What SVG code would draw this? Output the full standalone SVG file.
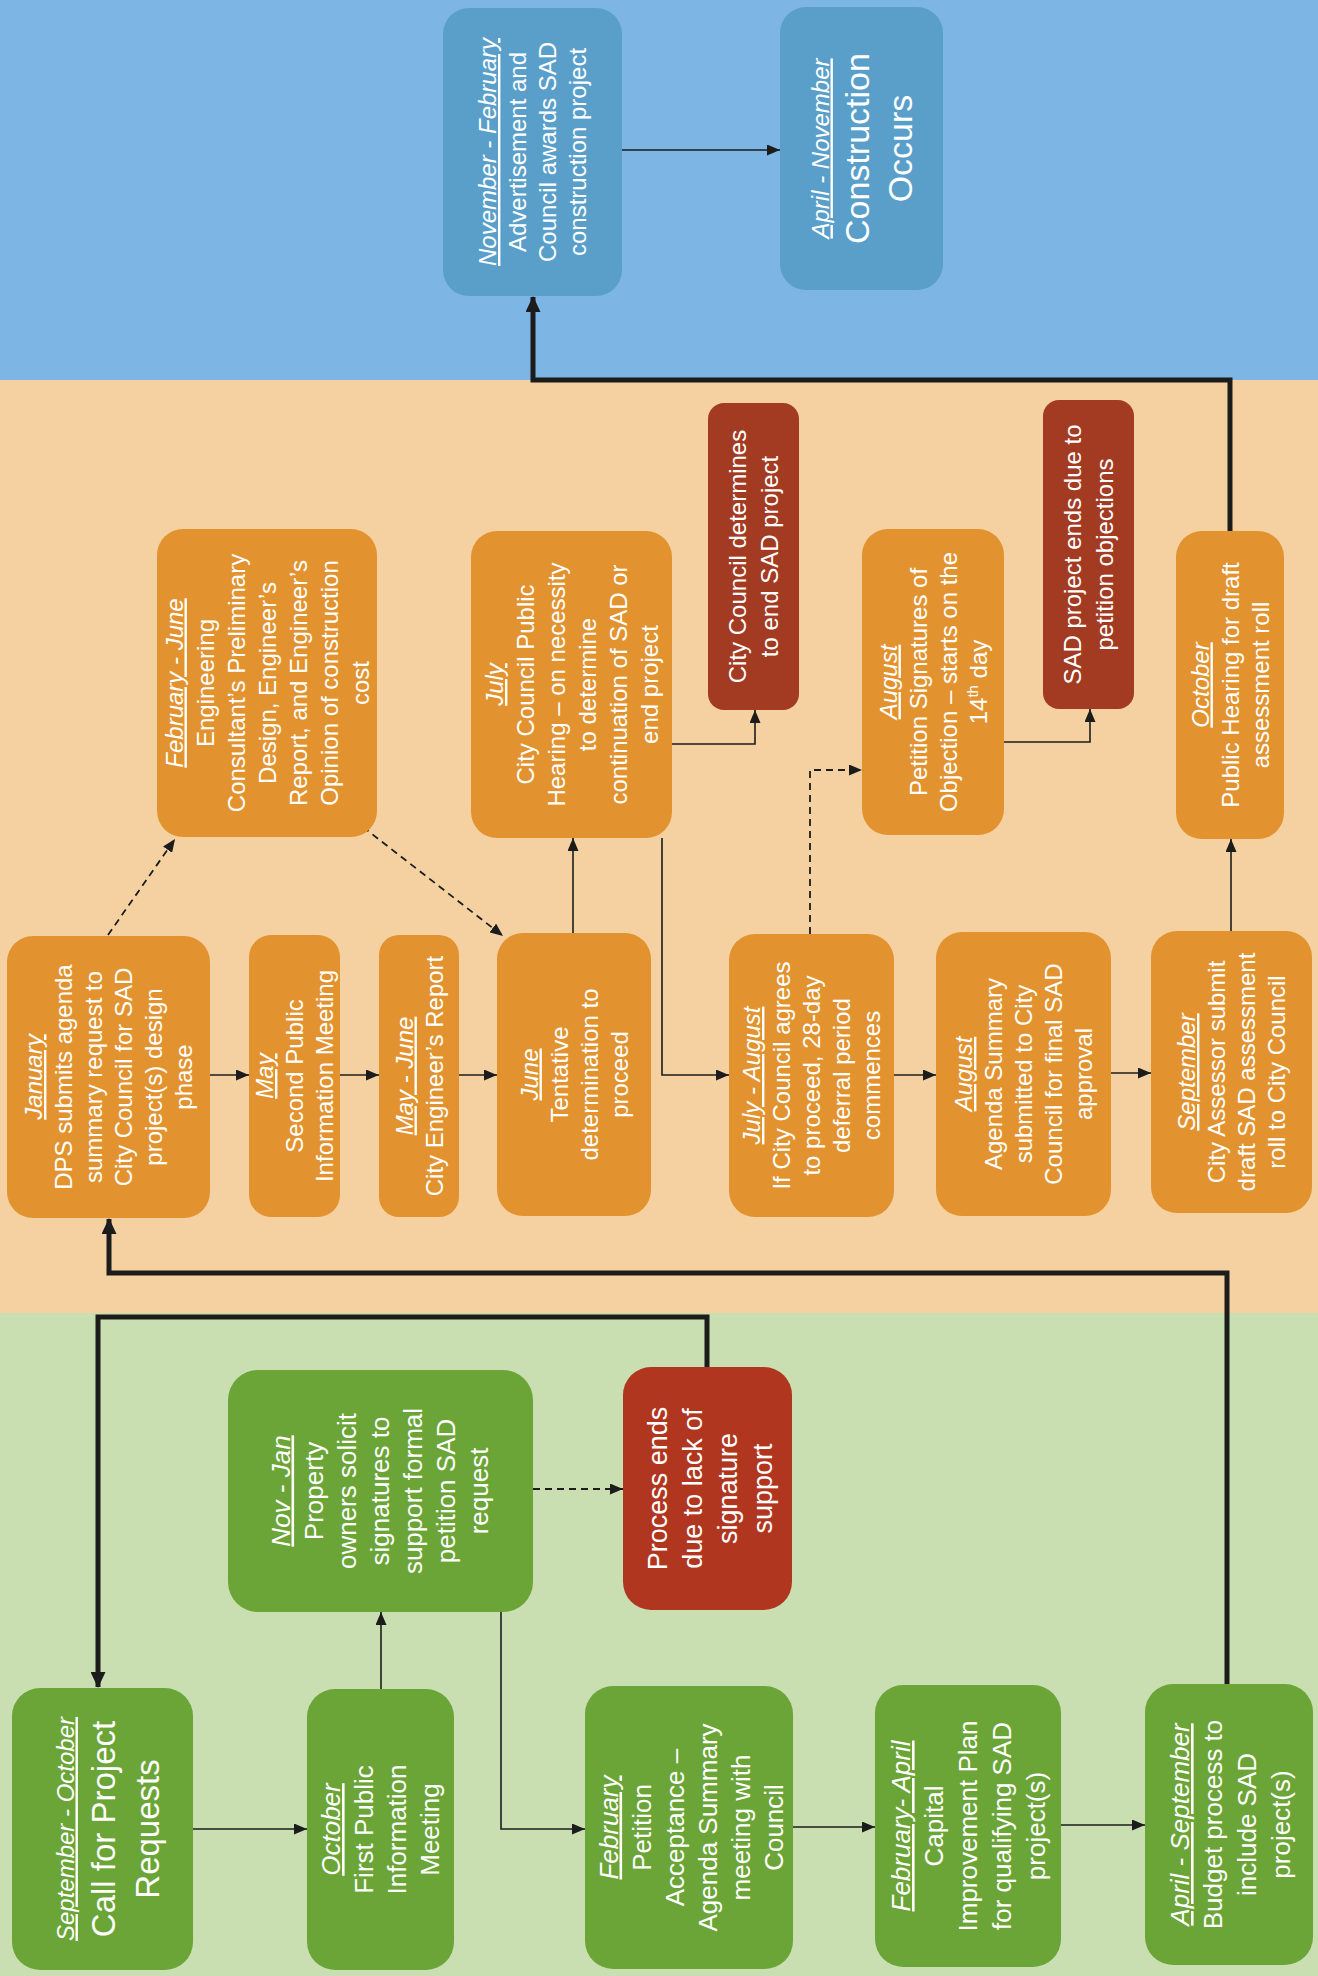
<svg xmlns="http://www.w3.org/2000/svg" width="1318" height="1976" viewBox="0 0 1318 1976">
<style>
.nb{fill:#5a9fca}.no{fill:#e2932f}.nr{fill:#a33a22}.ng{fill:#6ba538}.nrg{fill:#b1361f}
text{font-family:"Liberation Sans",Arial,sans-serif;fill:#fff;text-anchor:middle}
.f24{font-size:24px}.f26{font-size:26px}.f27{font-size:27px}
.big{font-size:34px}.big33{font-size:33px}
.ttl{font-style:italic;text-decoration:underline}
.ln{fill:none;stroke:#1c1c1c;stroke-width:1.6}
.thick{fill:none;stroke:#1c1c1c;stroke-width:5}
.dash{stroke-dasharray:7 5;stroke-width:1.8}
</style>
<defs>
<marker id="ah" viewBox="0 0 13 11" refX="13" refY="5.5" markerWidth="13" markerHeight="11" orient="auto" markerUnits="userSpaceOnUse"><path d="M0,0 L13,5.5 L0,11 z" fill="#1c1c1c"/></marker>
<marker id="ahT" viewBox="0 0 16 15" refX="15" refY="7.5" markerWidth="16" markerHeight="15" orient="auto" markerUnits="userSpaceOnUse"><path d="M0,0 L16,7.5 L0,15 z" fill="#1c1c1c"/></marker>
</defs>
<g id="bands">
<rect x="0" y="0" width="1318" height="380" fill="#7db5e5"/>
<rect x="0" y="380" width="1318" height="933" fill="#f5d1a2"/>
<rect x="0" y="1313" width="1318" height="663" fill="#c9dfb1"/>
</g>
<g id="connectors">
<path class="ln" d="M622,150 H780" marker-end="url(#ah)"/>
<path class="thick" d="M1230,531 V380 H533 V297" marker-end="url(#ahT)"/>
<path class="ln" d="M672,744 H755 V710" marker-end="url(#ah)"/>
<path class="ln" d="M662,838 V1075 H729" marker-end="url(#ah)"/>
<path class="ln" d="M573,933 V838" marker-end="url(#ah)"/>
<path class="ln dash" d="M363,827 L503,936" marker-end="url(#ah)"/>
<path class="ln dash" d="M108,935 L175,839" marker-end="url(#ah)"/>
<path class="ln" d="M210,1075 H249" marker-end="url(#ah)"/>
<path class="ln" d="M340,1075 H379" marker-end="url(#ah)"/>
<path class="ln" d="M459,1075 H497" marker-end="url(#ah)"/>
<path class="ln dash" d="M810,934 V770 H862" marker-end="url(#ah)"/>
<path class="ln" d="M1004,742 H1090 V709" marker-end="url(#ah)"/>
<path class="ln" d="M894,1075 H936" marker-end="url(#ah)"/>
<path class="ln" d="M1111,1073 H1151" marker-end="url(#ah)"/>
<path class="ln" d="M1231,931 V839" marker-end="url(#ah)"/>
<path class="thick" d="M1227,1684 V1273 H109 V1219" marker-end="url(#ahT)"/>
<path class="thick" d="M707,1367 V1317 H98 V1687" marker-end="url(#ahT)"/>
<path class="ln" d="M193,1829 H307" marker-end="url(#ah)"/>
<path class="ln" d="M381,1689 V1612" marker-end="url(#ah)"/>
<path class="ln dash" d="M533,1489 H623" marker-end="url(#ah)"/>
<path class="ln" d="M501,1612 V1829 H585" marker-end="url(#ah)"/>
<path class="ln" d="M793,1827 H875" marker-end="url(#ah)"/>
<path class="ln" d="M1061,1825 H1145" marker-end="url(#ah)"/>
</g>

<g id="n-novfeb">
<rect class="nb" x="443" y="8" width="179" height="288" rx="26"/>
<text class="f24" transform="translate(532.5,152) rotate(-90)"><tspan class="ttl" x="0" y="-36.5">November - February</tspan><tspan x="0" y="-6.5">Advertisement and</tspan><tspan x="0" y="23.5">Council awards SAD</tspan><tspan x="0" y="53.5">construction project</tspan></text>
</g>
<g id="n-aprnov">
<rect class="nb" x="780" y="7" width="163" height="283" rx="26"/>
<text transform="translate(861.5,148.5) rotate(-90)"><tspan class="f24 ttl" x="0" y="-33">April - November</tspan><tspan class="big" x="0" y="7">Construction</tspan><tspan class="big" x="0" y="50">Occurs</tspan></text>
</g>

<g id="n-febjune">
<rect class="no" x="157" y="529" width="220" height="308" rx="26"/>
<text class="f24" transform="translate(267,683) rotate(-90)"><tspan class="ttl" x="0" y="-84.5">February - June</tspan><tspan x="0" y="-53.5">Engineering</tspan><tspan x="0" y="-22.5">Consultant’s Preliminary</tspan><tspan x="0" y="8.5">Design, Engineer’s</tspan><tspan x="0" y="39.5">Report, and Engineer’s</tspan><tspan x="0" y="70.5">Opinion of construction</tspan><tspan x="0" y="101.5">cost</tspan></text>
</g>
<g id="n-july">
<rect class="no" x="471" y="531" width="201" height="307" rx="26"/>
<text class="f24" transform="translate(571.5,684.5) rotate(-90)"><tspan class="ttl" x="0" y="-68.5">July</tspan><tspan x="0" y="-37.5">City Council Public</tspan><tspan x="0" y="-6.5">Hearing – on necessity</tspan><tspan x="0" y="24.5">to determine</tspan><tspan x="0" y="55.5">continuation of SAD or</tspan><tspan x="0" y="86.5">end project</tspan></text>
</g>
<g id="n-ccend">
<rect class="nr" x="708" y="403" width="91" height="307" rx="16"/>
<text class="f24" transform="translate(753.5,556.5) rotate(-90)"><tspan x="0" y="-7.5">City Council determines</tspan><tspan x="0" y="24.5">to end SAD project</tspan></text>
</g>
<g id="n-augpet">
<rect class="no" x="862" y="529" width="142" height="306" rx="26"/>
<text class="f24" transform="translate(933,682) rotate(-90)"><tspan class="ttl" x="0" y="-36.5">August</tspan><tspan x="0" y="-6.5">Petition Signatures of</tspan><tspan x="0" y="23.5">Objection – starts on the</tspan><tspan x="0" y="53.5">14<tspan font-size="15" dy="-9">th</tspan><tspan dy="9"> day</tspan></tspan></text>
</g>
<g id="n-sadend">
<rect class="nr" x="1043" y="400" width="91" height="309" rx="16"/>
<text class="f24" transform="translate(1088.5,554.5) rotate(-90)"><tspan x="0" y="-7.5">SAD project ends due to</tspan><tspan x="0" y="24.5">petition objections</tspan></text>
</g>
<g id="n-oct">
<rect class="no" x="1176" y="531" width="108" height="308" rx="26"/>
<text class="f24" transform="translate(1230,685) rotate(-90)"><tspan class="ttl" x="0" y="-21.5">October</tspan><tspan x="0" y="8.5">Public Hearing for draft</tspan><tspan x="0" y="38.5">assessment roll</tspan></text>
</g>

<g id="n-jan">
<rect class="no" x="7" y="936" width="203" height="282" rx="26"/>
<text class="f24" transform="translate(108.5,1077) rotate(-90)"><tspan class="ttl" x="0" y="-66.5">January</tspan><tspan x="0" y="-36.5">DPS submits agenda</tspan><tspan x="0" y="-6.5">summary request to</tspan><tspan x="0" y="23.5">City Council for SAD</tspan><tspan x="0" y="53.5">project(s) design</tspan><tspan x="0" y="83.5">phase</tspan></text>
</g>
<g id="n-may">
<rect class="no" x="249" y="935" width="91" height="282" rx="22"/>
<text class="f24" transform="translate(294.5,1076) rotate(-90)"><tspan class="ttl" x="0" y="-21.5">May</tspan><tspan x="0" y="8.5">Second Public</tspan><tspan x="0" y="38.5">Information Meeting</tspan></text>
</g>
<g id="n-mayjune">
<rect class="no" x="379" y="935" width="80" height="282" rx="20"/>
<text class="f24" transform="translate(419,1076) rotate(-90)"><tspan class="ttl" x="0" y="-6.5">May - June</tspan><tspan x="0" y="23.5">City Engineer’s Report</tspan></text>
</g>
<g id="n-june">
<rect class="no" x="497" y="933" width="154" height="283" rx="26"/>
<text class="f24" transform="translate(574,1074.5) rotate(-90)"><tspan class="ttl" x="0" y="-36.5">June</tspan><tspan x="0" y="-6.5">Tentative</tspan><tspan x="0" y="23.5">determination to</tspan><tspan x="0" y="53.5">proceed</tspan></text>
</g>
<g id="n-julyaug">
<rect class="no" x="729" y="934" width="165" height="283" rx="26"/>
<text class="f24" transform="translate(811.5,1075.5) rotate(-90)"><tspan class="ttl" x="0" y="-51.5">July - August</tspan><tspan x="0" y="-21.5">If City Council agrees</tspan><tspan x="0" y="8.5">to proceed, 28-day</tspan><tspan x="0" y="38.5">deferral period</tspan><tspan x="0" y="68.5">commences</tspan></text>
</g>
<g id="n-augagenda">
<rect class="no" x="936" y="932" width="175" height="284" rx="26"/>
<text class="f24" transform="translate(1023.5,1074) rotate(-90)"><tspan class="ttl" x="0" y="-51.5">August</tspan><tspan x="0" y="-21.5">Agenda Summary</tspan><tspan x="0" y="8.5">submitted to City</tspan><tspan x="0" y="38.5">Council for final SAD</tspan><tspan x="0" y="68.5">approval</tspan></text>
</g>
<g id="n-sept">
<rect class="no" x="1151" y="931" width="161" height="282" rx="26"/>
<text class="f24" transform="translate(1231.5,1072) rotate(-90)"><tspan class="ttl" x="0" y="-36.5">September</tspan><tspan x="0" y="-6.5">City Assessor submit</tspan><tspan x="0" y="23.5">draft SAD assessment</tspan><tspan x="0" y="53.5">roll to City Council</tspan></text>
</g>

<g id="n-call">
<rect class="ng" x="12" y="1688" width="181" height="282" rx="28"/>
<text transform="translate(102.5,1829) rotate(-90)"><tspan class="f24 ttl" x="0" y="-29">September - October</tspan><tspan class="big33" x="0" y="12">Call for Project</tspan><tspan class="big33" x="0" y="56">Requests</tspan></text>
</g>
<g id="n-octfirst">
<rect class="ng" x="307" y="1689" width="147" height="281" rx="28"/>
<text class="f26" transform="translate(380.5,1829.5) rotate(-90)"><tspan class="ttl" x="0" y="-40.5">October</tspan><tspan x="0" y="-7.5">First Public</tspan><tspan x="0" y="25.5">Information</tspan><tspan x="0" y="58.5">Meeting</tspan></text>
</g>
<g id="n-novjan">
<rect class="ng" x="228" y="1370" width="305" height="242" rx="30"/>
<text class="f26" transform="translate(380.5,1491) rotate(-90)"><tspan class="ttl" x="0" y="-91">Nov - Jan</tspan><tspan x="0" y="-58">Property</tspan><tspan x="0" y="-25">owners solicit</tspan><tspan x="0" y="8">signatures to</tspan><tspan x="0" y="41">support formal</tspan><tspan x="0" y="74">petition SAD</tspan><tspan x="0" y="107">request</tspan></text>
</g>
<g id="n-procend">
<rect class="nrg" x="623" y="1367" width="169" height="243" rx="28"/>
<text class="f27" transform="translate(707.5,1488.5) rotate(-90)"><tspan x="0" y="-41">Process ends</tspan><tspan x="0" y="-6">due to lack of</tspan><tspan x="0" y="29">signature</tspan><tspan x="0" y="64">support</tspan></text>
</g>
<g id="n-feb">
<rect class="ng" x="585" y="1686" width="208" height="283" rx="28"/>
<text class="f26" transform="translate(689,1827.5) rotate(-90)"><tspan class="ttl" x="0" y="-71.5">February</tspan><tspan x="0" y="-38.5">Petition</tspan><tspan x="0" y="-5.5">Acceptance –</tspan><tspan x="0" y="27.5">Agenda Summary</tspan><tspan x="0" y="60.5">meeting with</tspan><tspan x="0" y="93.5">Council</tspan></text>
</g>
<g id="n-febapr">
<rect class="ng" x="875" y="1685" width="186" height="282" rx="28"/>
<text class="f26" transform="translate(968,1826) rotate(-90)"><tspan class="ttl" x="0" y="-58">February- April</tspan><tspan x="0" y="-25">Capital</tspan><tspan x="0" y="9">Improvement Plan</tspan><tspan x="0" y="43">for qualifying SAD</tspan><tspan x="0" y="77">project(s)</tspan></text>
</g>
<g id="n-aprsep">
<rect class="ng" x="1145" y="1684" width="168" height="281" rx="28"/>
<text class="f26" transform="translate(1229,1824.5) rotate(-90)"><tspan class="ttl" x="0" y="-40">April - September</tspan><tspan x="0" y="-7">Budget process to</tspan><tspan x="0" y="27">include SAD</tspan><tspan x="0" y="61">project(s)</tspan></text>
</g>
</svg>
